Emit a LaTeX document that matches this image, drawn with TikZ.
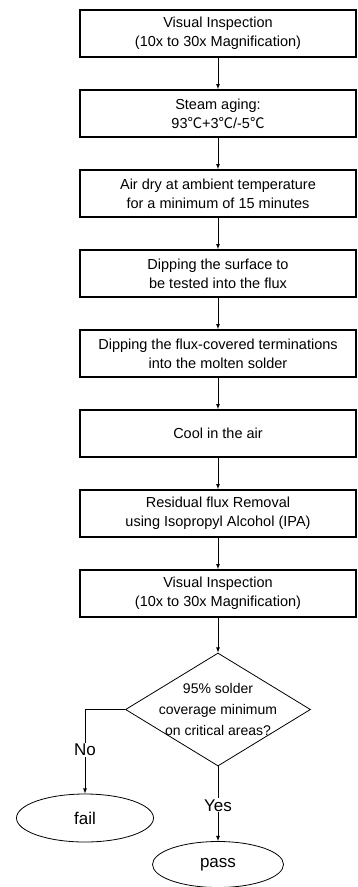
\documentclass[tikz,border=0pt]{standalone}
\usepackage{fontspec}
\setmainfont{Liberation Sans}
\newfontfamily\cjk{Noto Sans CJK SC}
\usetikzlibrary{shapes.geometric, positioning, arrows}

\tikzset{
  stepbox/.style={draw, line width=1.6pt, minimum width=276pt, minimum height=47pt, align=center, inner sep=2pt},
  decision/.style={draw, diamond, line width=0.8pt, minimum width=185pt, minimum height=113pt, inner sep=0pt},
  endnode/.style={draw, ellipse, line width=0.8pt, inner sep=0pt, font=\fontsize{17}{20}\selectfont},
  branch/.style={fill=white, inner sep=1pt, font=\fontsize{17}{20}\selectfont},
}
\newcommand{\degc}{{\cjk ℃}}

\begin{document}
\begin{tikzpicture}[x=1pt, y=1pt, node distance=80pt, font=\fontsize{14.5}{19}\selectfont, >=latex]
    \useasboundingbox (0,0) rectangle (357,-887);

    \node[stepbox] (insp1) at (218,-33.5) {Visual Inspection\\(10x to 30x Magnification)};
    \node[stepbox] (aging) [below of=insp1] {Steam aging:\\93\degc+3\degc/-5\degc};
    \node[stepbox] (dry) [below of=aging] {Air dry at ambient temperature\\for a minimum of 15 minutes};
    \node[stepbox] (flux) [below of=dry] {Dipping the surface to\\be tested into the flux};
    \node[stepbox] (solder) [below of=flux] {Dipping the flux-covered terminations\\into the molten solder};
    \node[stepbox] (cool) [below of=solder] {Cool in the air};
    \node[stepbox] (clean) [below of=cool] {Residual flux Removal\\using Isopropyl Alcohol (IPA)};
    \node[stepbox] (insp2) [below of=clean] {Visual Inspection\\(10x to 30x Magnification)};

    \node[decision, label={[align=center, font=\fontsize{14}{21}\selectfont]center:95\% solder\\coverage minimum\\on critical areas?}] (check) [below of=insp2, node distance=116pt] {};
    \node[endnode, minimum width=137pt, minimum height=48pt] (fail) at (85,-818) {fail};
    \node[endnode, minimum width=131pt, minimum height=46pt] (pass) [below of=check, node distance=155pt] {pass};

    \path[->, line width=0.8pt]
    (insp1) edge (aging)
    (aging) edge (dry)
    (dry) edge (flux)
    (flux) edge (solder)
    (solder) edge (cool)
    (cool) edge (clean)
    (clean) edge (insp2)
    (insp2) edge (check)
    ;
    \draw[->, line width=0.8pt] (check.west) -| node[branch, pos=0.74] {No} (fail.north);
    \draw[->, line width=0.8pt] (check.south) -- node[branch, pos=0.52] {Yes} (pass.north);
\end{tikzpicture}
\end{document}
